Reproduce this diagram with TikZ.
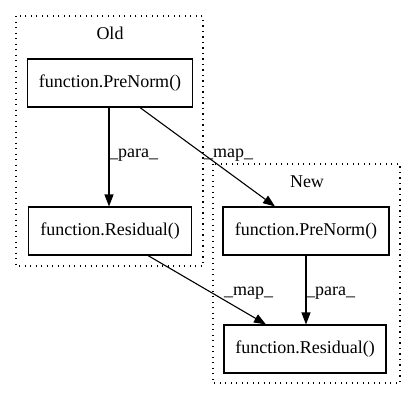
\documentclass[tikz,border=0pt]{standalone}
\usepackage{fontspec}
\setmainfont{Liberation Serif}
\usetikzlibrary{arrows.meta}
\begin{document}
\begin{tikzpicture}[x=1bp,y=-1bp,
  fn/.style={draw,line width=1.1bp,minimum width=#1,minimum height=48bp,inner sep=0pt,font=\fontsize{18bp}{20bp}\selectfont},
  cluster/.style={draw,line width=1.3bp,dash pattern=on 1.3bp off 4.2bp},
  lbl/.style={font=\fontsize{18bp}{20bp}\selectfont,inner sep=0pt},
  edge/.style={line width=1.1bp,-{Triangle[length=12bp,width=9bp]}}]
\useasboundingbox (0,0) rectangle (416,400);
\fill[white] (0,0) rectangle (416,400);
% clusters
\draw[cluster] (16,16) rectangle (203,266);
\node[lbl] (oldlbl) at (110,33) {Old};
\draw[cluster] (213,164) rectangle (400,383);
\node[lbl] (newlbl) at (307,182) {New};
% nodes
\node[fn=165bp] (oldpre) at (110,83) {function.PreNorm()};
\node[fn=163bp] (oldres) at (110,231) {function.Residual()};
\node[fn=166bp] (newpre) at (306,231) {function.PreNorm()};
\node[fn=162bp] (newres) at (305,349) {function.Residual()};
% edges
\draw[edge] (oldpre.south -| 109,0) -- (oldres.north -| 109,0);
\node[lbl,anchor=west] (p1) at (109,155) {\_para\_};
\draw[edge] (oldpre.south -| 140,0) -- (newpre.north -| 275,0);
\node[lbl,anchor=west] (m1) at (204,155) {\_map\_};
\draw[edge] (newpre.south -| 306,0) -- (newres.north -| 306,0);
\node[lbl,anchor=west] (p2) at (306,293) {\_para\_};
\draw[edge] (oldres.south -| 148,0) -- (newres.north -| 266,0);
\node[lbl,anchor=west] (m2) at (224,293) {\_map\_};
\end{tikzpicture}
\end{document}
